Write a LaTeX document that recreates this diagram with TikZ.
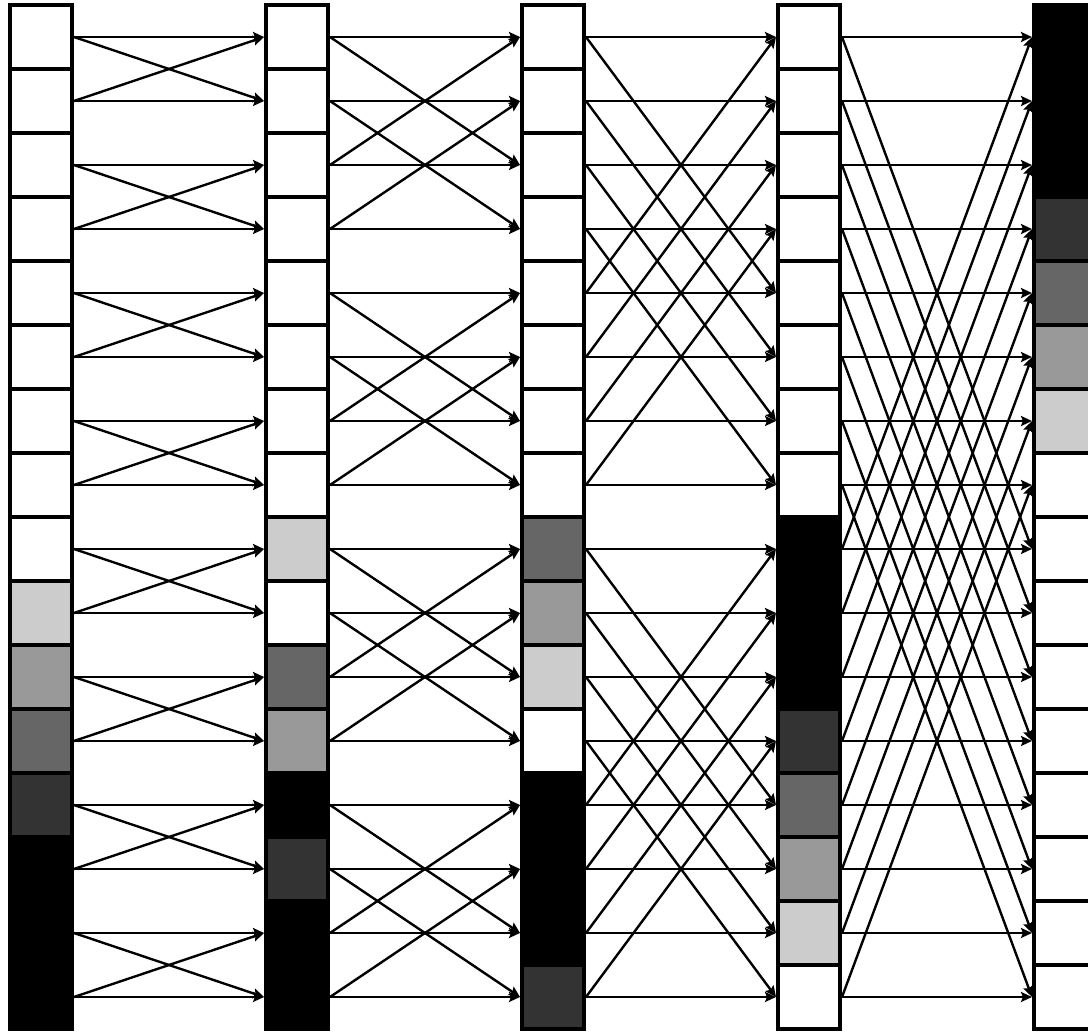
\documentclass[tikz,border=0pt]{standalone}
\usetikzlibrary{arrows.meta}
\definecolor{gA}{gray}{0.8}
\definecolor{gB}{gray}{0.6}
\definecolor{gC}{gray}{0.4}
\definecolor{gD}{gray}{0.2}
\begin{document}
\begin{tikzpicture}[x=1pt,y=-1pt,
  cell/.style={draw=black,line width=4pt,minimum width=62pt,minimum height=64pt,inner sep=0pt},
  link/.style={line width=2.4pt,-{Stealth[length=11pt,width=10pt,inset=2pt]}}]
\useasboundingbox (0,0) rectangle (1088,1032);
\clip (0,0) rectangle (1088,1032);
\foreach \c/\fills in {
  0/{white,white,white,white,white,white,white,white,white,gA,gB,gC,gD,black,black,black},
  1/{white,white,white,white,white,white,white,white,gA,white,gC,gB,black,gD,black,black},
  2/{white,white,white,white,white,white,white,white,gC,gB,gA,white,black,black,black,gD},
  3/{white,white,white,white,white,white,white,white,black,black,black,gD,gC,gB,gA,white},
  4/{black,black,black,gD,gC,gB,gA,white,white,white,white,white,white,white,white,white}}{
  \foreach \f [count=\r from 0] in \fills {
    \node[cell,fill=\f] (n\c-\r) at ({41+256*\c},{37+64*\r}) {};
  }
}
\foreach \s in {0,1,2,3}{
  \pgfmathtruncatemacro\t{\s+1}
  \pgfmathtruncatemacro\d{2^\s}
  \foreach \r in {0,...,15}{
    \pgfmathtruncatemacro\p{mod(floor(\r/\d),2)==0 ? \r+\d : \r-\d}
    \draw[link] (n\s-\r.east) -- (n\t-\r.west);
    \draw[link] (n\s-\r.east) -- (n\t-\p.west);
  }
}
\end{tikzpicture}
\end{document}
